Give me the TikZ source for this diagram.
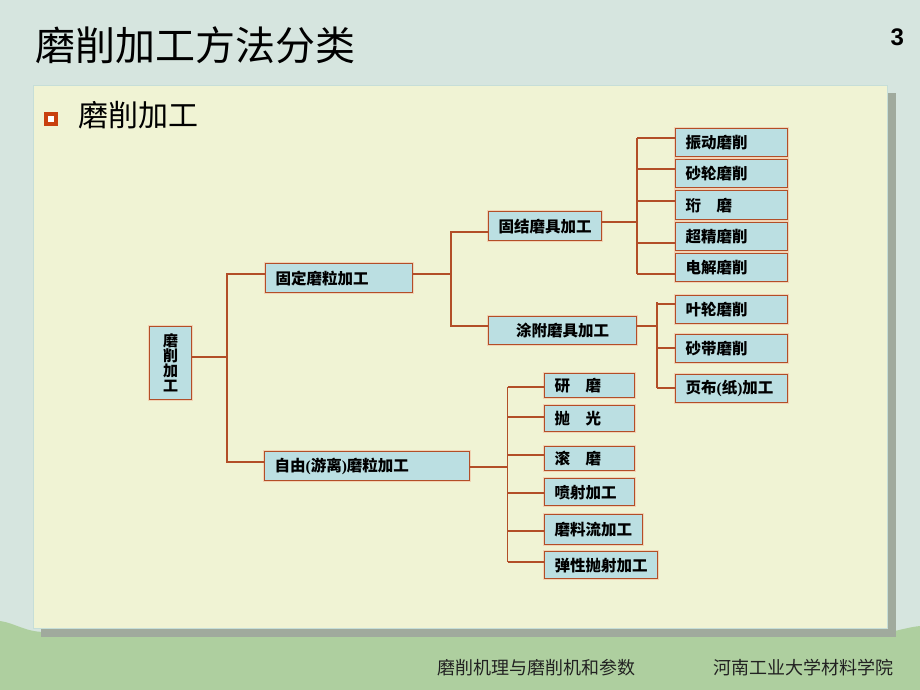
\documentclass[tikz,border=0pt]{standalone}
\usepackage{fontspec}
\setmainfont{Noto Sans CJK SC}
\newfontfamily\pf{Liberation Serif}
\newfontfamily\nf{Liberation Sans}
\definecolor{bgtop}{HTML}{D6E5DF}
\definecolor{hill}{HTML}{AECF9F}
\definecolor{panel}{HTML}{F0F3D4}
\definecolor{panelbrd}{HTML}{C6DED8}
\definecolor{shadowc}{HTML}{A0AA9D}
\definecolor{boxfill}{HTML}{BBDFE2}
\definecolor{brd}{HTML}{B24E28}
\definecolor{glow}{HTML}{F2D3B4}
\definecolor{bul}{HTML}{C8400F}
\definecolor{foot}{HTML}{222222}
\tikzset{
  bx/.style={draw=brd, fill=boxfill, line width=1.3pt,
    preaction={draw=glow, line width=3.2pt},
    inner xsep=10pt, inner ysep=0pt, anchor=north west, align=left,
    font=\fontsize{15.5}{17}\selectfont\bfseries},
  ln/.style={draw=brd, line width=1.3pt},
  plain/.style={anchor=west, inner sep=0pt},
}
\newcommand{\lp}{{\pf\bfseries(}}
\newcommand{\rp}{{\pf\bfseries)}}
\begin{document}
\begin{tikzpicture}[x=1pt,y=-1pt]
\useasboundingbox (0,0) rectangle (920,690);
% background
\fill[bgtop] (0,0) rectangle (920,690);
\fill[hill] (0,621) .. controls (15,623) and (25,632) .. (45,632) -- (890,632)
  .. controls (900,630) and (910,627) .. (920,626) -- (920,690) -- (0,690) -- cycle;
% panel
\fill[shadowc] (41,93) rectangle (896,637);
\filldraw[fill=panel, draw=panelbrd, line width=0.8pt] (33,85.5) rectangle (887.5,628.5);
% titles
\node[plain, font=\fontsize{40}{44}\selectfont] (title) at (35,45) {磨削加工方法分类};
\node[plain, font=\nf\bfseries\fontsize{24}{28}\selectfont] (pg) at (890.5,37.5) {3};
\node[draw=bul, line width=3.5pt, fill=white, minimum size=10pt, inner sep=0pt] (bullet) at (50.8,119.2) {};
\node[plain, font=\fontsize{30}{34}\selectfont] (sub) at (78,115) {磨削加工};
% footer
\node[plain, text=foot, font=\fontsize{18}{20}\selectfont] (ft1) at (437,668) {磨削机理与磨削机和参数};
\node[plain, text=foot, font=\fontsize{18}{20}\selectfont] (ft2) at (713,668) {河南工业大学材料学院};
% boxes
\node[bx, align=center, inner xsep=0pt, text width=42pt, minimum height=73pt,
  font=\fontsize{15}{15}\selectfont\bfseries] (root) at (149,326) {磨\\削\\加\\工};
\node[bx, text width=127pt, minimum height=29pt] (gd) at (265,263) {固定磨粒加工};
\node[bx, text width=185pt, minimum height=29pt] (zy) at (264,451) {自由\lp 游离\rp 磨粒加工};
\node[bx, text width=93pt, minimum height=29pt] (gj) at (488,211) {固结磨具加工};
\node[bx, align=center, text width=128pt, minimum height=28pt] (tf) at (488,316) {涂附磨具加工};
\node[bx, text width=92pt, minimum height=28pt] (r1) at (675,128) {振动磨削};
\node[bx, text width=92pt, minimum height=28pt] (r2) at (675,159) {砂轮磨削};
\node[bx, text width=92pt, minimum height=29pt] (r3) at (675,190) {珩\hspace{1em}磨};
\node[bx, text width=92pt, minimum height=28pt] (r4) at (675,222) {超精磨削};
\node[bx, text width=92pt, minimum height=28pt] (r5) at (675,253) {电解磨削};
\node[bx, text width=92pt, minimum height=28pt] (t1) at (675,295) {叶轮磨削};
\node[bx, text width=92pt, minimum height=28pt] (t2) at (675,334) {砂带磨削};
\node[bx, text width=92pt, minimum height=28pt] (t3) at (675,374) {页布\lp 纸\rp 加工};
\node[bx, text width=70pt, minimum height=24pt] (f1) at (544,373) {研\hspace{1em}磨};
\node[bx, text width=70pt, minimum height=26pt] (f2) at (544,405) {抛\hspace{1em}光};
\node[bx, text width=70pt, minimum height=24pt] (f3) at (544,446) {滚\hspace{1em}磨};
\node[bx, text width=70pt, minimum height=27pt] (f4) at (544,478) {喷射加工};
\node[bx, text width=78pt, minimum height=30pt] (f5) at (544,514) {磨料流加工};
\node[bx, text width=93pt, minimum height=27pt] (f6) at (544,551) {弹性抛射加工};
% connectors: root
\coordinate (j0) at (227,357);
\coordinate (j0a) at (227,274);
\coordinate (j0b) at (227,462);
\draw[ln] (root.east |- j0) -- (j0);
\draw[ln] (gd.west |- j0a) -- (j0a) -- (j0b) -- (zy.west |- j0b);
% fixed abrasive
\coordinate (j1) at (451,274);
\coordinate (j1a) at (451,232);
\coordinate (j1b) at (451,326);
\draw[ln] (gd.east |- j1) -- (j1);
\draw[ln] (gj.west |- j1a) -- (j1a) -- (j1b) -- (tf.west |- j1b);
% bonded tools
\coordinate (j2) at (637,222);
\draw[ln] (gj.east |- j2) -- (j2);
\draw[ln] (637,138) -- (637,274);
\foreach \n/\yy in {r1/138, r2/169, r3/201, r4/243, r5/274}{
  \coordinate (b\n) at (637,\yy);
  \draw[ln] (b\n) -- (b\n -| \n.west);
}
% coated tools
\coordinate (j3) at (657,326);
\draw[ln] (tf.east |- j3) -- (j3);
\draw[ln] (657,302) -- (657,388);
\foreach \n/\yy in {t1/304, t2/348, t3/388}{
  \coordinate (b\n) at (657,\yy);
  \draw[ln] (b\n) -- (b\n -| \n.west);
}
% free abrasive
\coordinate (j4) at (507.5,467);
\draw[ln] (zy.east |- j4) -- (j4);
\draw[ln] (507.5,387) -- (507.5,562);
\foreach \n/\yy in {f1/387, f2/417, f3/455, f4/493, f5/531, f6/562}{
  \coordinate (b\n) at (507.5,\yy);
  \draw[ln] (b\n) -- (b\n -| \n.west);
}
\end{tikzpicture}
\end{document}
